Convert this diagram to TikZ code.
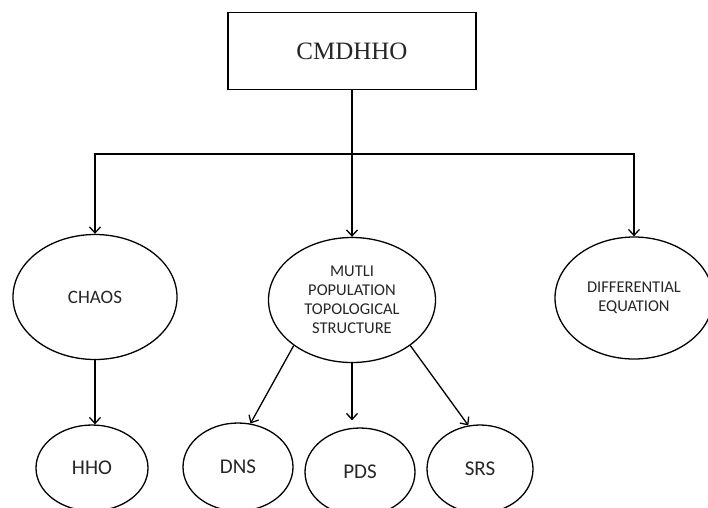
\documentclass[tikz,border=0pt]{standalone}
\usepackage{fontspec}
\setmainfont{Liberation Serif}
\setsansfont{Carlito}
\usetikzlibrary{arrows.meta, shapes.geometric, positioning}

\begin{document}
\begin{tikzpicture}[x=1pt, y=-1pt, line width=1.3pt,
    >={Straight Barb[length=6pt, width=11pt]},
    bubble/.style={draw, ellipse, inner sep=0pt, align=center, text=black!85,
        font=\sffamily\fontsize{19}{21}\selectfont},
    labeltext/.style={font=\sffamily\fontsize{21}{23}\selectfont},
    smalltext/.style={font=\sffamily\fontsize{16.5}{19}\selectfont}]
    \useasboundingbox (0, 0) rectangle (708, 507);
    \node[draw, minimum width=248pt, minimum height=77pt, text=black!85,
        font=\fontsize{25}{30}\selectfont] (top) at (352, 51) {CMDHHO};
    \coordinate (split) at (352, 154);
    \node[bubble, minimum width=164pt, minimum height=125pt] (chaos) at (95, 297) {CHAOS};
    \node[bubble, smalltext, minimum width=167pt, minimum height=125pt] (multi) at (352, 300) {MUTLI\\POPULATION\\TOPOLOGICAL\\STRUCTURE};
    \node[bubble, smalltext, minimum width=158pt, minimum height=122pt] (diff) at (634, 298) {DIFFERENTIAL\\EQUATION};
    \node[bubble, labeltext, minimum width=112pt, minimum height=86pt] (hho) at (92, 468) {HHO};
    \node[bubble, labeltext, minimum width=110pt, minimum height=88pt] (dns) at (238, 467) {DNS};
    \node[bubble, labeltext, minimum width=110pt, minimum height=88pt] (pds) at (360, 472) {PDS};
    \node[bubble, labeltext, minimum width=106pt, minimum height=88pt] (srs) at (480, 469) {SRS};
    \draw
    (top) -- (split)
    (split) edge[->] (multi)
    (chaos.south) edge[->] (chaos.south |- hho.north)
    (multi.218) edge[->] (dns.74)
    (multi.south) edge[->, shorten >=7pt] (multi.south |- pds.north)
    (multi.322) edge[->] (srs.105);
    \draw[->] (split) -| (chaos);
    \draw[->] (split) -| (diff);
\end{tikzpicture}
\end{document}
